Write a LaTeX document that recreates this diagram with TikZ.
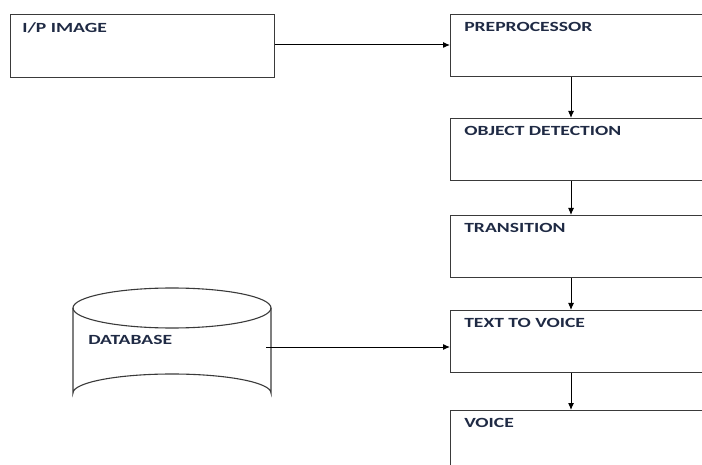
\documentclass[tikz,border=0pt]{standalone}
\usepackage{fontspec}
\setmainfont{Carlito}
\usetikzlibrary{positioning}
\usetikzlibrary{calc}
\usetikzlibrary{arrows.meta}
\definecolor{edgegray}{HTML}{3A3A3A}
\definecolor{inktext}{HTML}{1F2A44}
\tikzset{
    block/.style = {rectangle,draw=edgegray,line width=1.1pt,anchor=north west,inner sep=0pt},
    stage/.style = {block,minimum width=300,minimum height=62},
    caption/.style = {anchor=north west,inner sep=0pt,text=inktext,font=\fontsize{14}{16}\selectfont\bfseries,xscale=1.4},
    flow/.style = {draw=black,line width=1pt,-{Latex[length=7pt,width=6pt]}}}
\begin{document}
\begin{tikzpicture}[x=1pt,y=-1pt]
    \useasboundingbox (0,0) rectangle (702,465);
    \clip (0,0) rectangle (702,465);
    \coordinate (spine) at (571,0);
    % left input box
    \node[block,minimum width=264,minimum height=63] (img) at (10,14) {};
    \node[caption] (imgtxt) at ($(img.north west)+(12,8)$) {I/P IMAGE};
    % right column of stages
    \node[stage] (pre) at (450,14) {};
    \node[stage] (obj) at (450,118) {};
    \node[stage] (trans) at (450,215) {};
    \node[stage] (ttv) at (450,310) {};
    \node[stage,minimum height=90] (voice) at (450,410) {};
    \node[caption] at ($(pre.north west)+(14,8)$) {PREPROCESSOR};
    \node[caption] at ($(obj.north west)+(14,8)$) {OBJECT DETECTION};
    \node[caption] at ($(trans.north west)+(14,8)$) {TRANSITION};
    \node[caption] at ($(ttv.north west)+(14,8)$) {TEXT TO VOICE};
    \node[caption] at ($(voice.north west)+(14,8)$) {VOICE};
    % database drum
    \draw[edgegray,line width=1.1pt] (73,308) -- (73,393) arc[start angle=180,end angle=360,x radius=99,y radius=19] -- (271,308);
    \draw[edgegray,line width=1.1pt] (172,308) ellipse[x radius=99,y radius=20];
    \node[caption] (db) at (88,335) {DATABASE};
    \coordinate (dbport) at (266,347);
    % connectors
    \draw[flow] (img.east |- 0,45) -- (pre.west |- 0,45);
    \draw[flow] (pre.south -| spine) -- (obj.north -| spine);
    \draw[flow] (obj.south -| spine) -- (trans.north -| spine);
    \draw[flow] (trans.south -| spine) -- (ttv.north -| spine);
    \draw[flow] (ttv.south -| spine) -- (voice.north -| spine);
    \draw[flow] (dbport) -- (ttv.west |- dbport);
\end{tikzpicture}
\end{document}
